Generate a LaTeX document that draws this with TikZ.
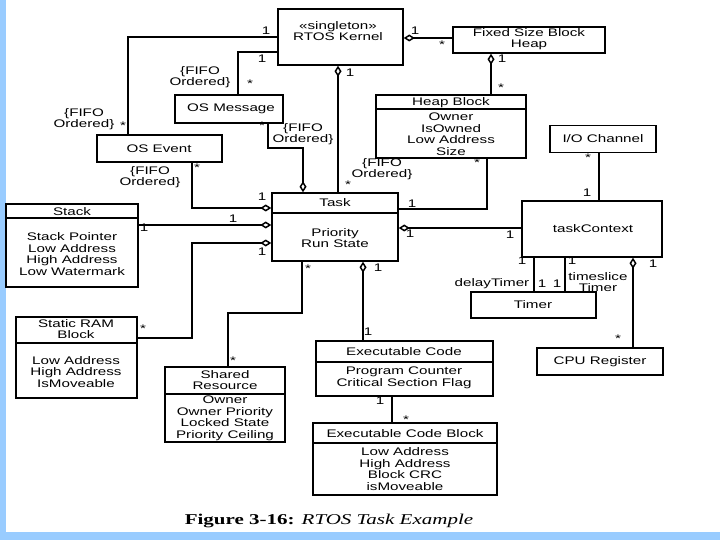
\documentclass[tikz,border=0pt]{standalone}
\usepackage{fontspec}
\newfontfamily\umlfont[FakeStretch=1.38]{Liberation Sans}
\newfontfamily\capfont[FakeStretch=1.4]{Liberation Serif}
\usepackage{tikz}
\usetikzlibrary{arrows.meta}
\definecolor{slideblue}{RGB}{153,204,255}

\begin{document}
\begin{tikzpicture}[x=1pt, y=-1pt,
        cls/.style={draw, line width=1.5pt, inner sep=0pt},
        txt/.style={font=\umlfont\fontsize{11}{11.5}\selectfont, align=center, inner sep=0pt},
        sep/.style={line width=1.2pt},
        assoc/.style={line width=1.5pt},
        aggstart/.style={{Diamond[open,length=11pt,width=7pt]}-},
        aggend/.style={-{Diamond[open,length=11pt,width=7pt]}}]
    \useasboundingbox (0,0) rectangle (720,540);
    \fill[slideblue] (0,0) rectangle (6,540);
    \fill[slideblue] (0,532) rectangle (720,540);

    % classes
    \node[cls, minimum width=125, minimum height=56] (kernel) at (340.5,37) {};
    \node[txt] (kernel-t) at (338,31) {«singleton»\\RTOS Kernel};
    \node[cls, minimum width=152, minimum height=26] (fixheap) at (529,40) {};
    \node[txt] (fixheap-t) at (529,39) {Fixed Size Block\\Heap};
    \node[cls, minimum width=108, minimum height=28] (osmsg) at (229,109) {};
    \node[txt] (osmsg-t) at (231,109) {OS Message};
    \node[cls, minimum width=125, minimum height=27] (osevent) at (159.5,148.5) {};
    \node[txt] (osevent-t) at (159,149) {OS Event};
    \node[cls, minimum width=150, minimum height=63] (heapblk) at (451,126.5) {};
    \node[txt] (heapblk-t) at (451,103) {Heap Block};
    \node[txt] (heapblk-a) at (451,134) {Owner\\IsOwned\\Low Address\\Size};
    \node[cls, minimum width=106, minimum height=27] (iochan) at (603,139) {};
    \node[txt] (iochan-t) at (603,139) {I/O Channel};
    \node[cls, minimum width=132, minimum height=83] (stack) at (72,245.5) {};
    \node[txt] (stack-t) at (72,212) {Stack};
    \node[txt] (stack-a) at (72,254) {Stack Pointer\\Low Address\\High Address\\Low Watermark};
    \node[cls, minimum width=126, minimum height=68] (task) at (335,227) {};
    \node[txt] (task-t) at (335,203) {Task};
    \node[txt] (task-a) at (335,238) {Priority\\Run State};
    \node[cls, minimum width=140, minimum height=56] (taskctx) at (592,229) {};
    \node[txt] (taskctx-t) at (593,229) {taskContext};
    \node[cls, minimum width=125, minimum height=26] (timer) at (533.5,305) {};
    \node[txt] (timer-t) at (533,305) {Timer};
    \node[cls, minimum width=121, minimum height=81] (sram) at (76.5,357.5) {};
    \node[txt] (sram-t) at (76,329) {Static RAM\\Block};
    \node[txt] (sram-a) at (76,372) {Low Address\\High Address\\IsMoveable};
    \node[cls, minimum width=120, minimum height=75] (shared) at (225,404.5) {};
    \node[txt] (shared-t) at (225,380) {Shared\\Resource};
    \node[txt] (shared-a) at (225,418.5) {Owner\\Owner Priority\\Locked State\\Priority Ceiling};
    \node[cls, minimum width=177, minimum height=55] (execcode) at (404.5,368.5) {};
    \node[txt] (execcode-t) at (404,352) {Executable Code};
    \node[txt] (execcode-a) at (404,378) {Program Counter\\Critical Section Flag};
    \node[cls, minimum width=126, minimum height=27] (cpureg) at (600,361.5) {};
    \node[txt] (cpureg-t) at (600,362) {CPU Register};
    \node[cls, minimum width=184, minimum height=72] (ecb) at (405,459) {};
    \node[txt] (ecb-t) at (405,434) {Executable Code Block};
    \node[txt] (ecb-a) at (405,469) {Low Address\\High Address\\Block CRC\\isMoveable};

    % compartment lines
    \foreach \n/\y in {heapblk/109, stack/218, task/213, sram/343, shared/394, execcode/362, ecb/443}
        \draw[sep] (\n.west |- 0,\y) -- (\n.east |- 0,\y);

    % associations
    \draw[assoc] (kernel.west |- 0,37) -| (osevent.north -| 128,0);
    \draw[assoc] (kernel.west |- 0,52) -| (osmsg.north -| 238,0);
    \draw[assoc, aggstart] (kernel.east |- 0,38) -- (fixheap.west |- 0,38);
    \draw[assoc, aggstart] (kernel.south -| 338,0) -- (task.north -| 338,0);
    \draw[assoc, aggend] (osmsg.south -| 268,0) |- (303,148) -- (task.north -| 303,0);
    \draw[assoc, aggend] (osevent.south -| 192,0) |- (task.west |- 0,208);
    \draw[assoc, aggend] (stack.east |- 0,225) -- (task.west |- 0,225);
    \draw[assoc, aggstart] (task.west |- 0,243) -| (192,338) -- (sram.east |- 0,338);
    \draw[assoc] (task.south -| 302,0) |- (228,313) -- (shared.north -| 228,0);
    \draw[assoc, aggstart] (task.south -| 363,0) -- (execcode.north -| 363,0);
    \draw[assoc] (task.east |- 0,209) -| (heapblk.south -| 487,0);
    \draw[assoc, aggstart] (task.east |- 0,228) -- (taskctx.west |- 0,228);
    \draw[assoc] (iochan.south -| 599,0) -- (taskctx.north -| 599,0);
    \draw[assoc] (taskctx.south -| 534,0) -- (timer.north -| 534,0);
    \draw[assoc] (taskctx.south -| 565,0) -- (timer.north -| 565,0);
    \draw[assoc, aggstart] (taskctx.south -| 633,0) -- (cpureg.north -| 633,0);
    \draw[assoc, aggstart] (fixheap.south -| 491,0) -- (heapblk.north -| 491,0);
    \draw[assoc] (execcode.south -| 392,0) -- (ecb.north -| 392,0);

    % multiplicities
    \foreach \x/\y/\t [count=\i] in {266/31/1, 123/126/*, 262/59/1, 250/84/*, 415/31/1, 442/45/*,
            350/73/1, 348/185/*, 262/126/*, 197/168/*, 262/197/1, 233/219/1, 144/228/1,
            262/252/1, 143/329/*, 308/269/*, 233/361/*, 378/268/1, 368/332/1, 412/204/1,
            477/163/*, 410/234/1, 510/235/1, 588/158/*, 587/193/1, 522/261/1, 542/284/1,
            572/261/1, 557/284/1, 653/264/1, 618/339/*, 502/59/1, 501/88/*, 380/401/1, 406/420/*}
        \node[txt] (m\i) at (\x,\y) {\t};

    % role names and constraints
    \node[txt] (fifo1) at (84,119) {\{FIFO\\Ordered\}};
    \node[txt] (fifo2) at (200,77) {\{FIFO\\Ordered\}};
    \node[txt] (fifo3) at (382,169) {\{FIFO\\Ordered\}};
    \node[txt] (fifo4) at (303,134) {\{FIFO\\Ordered\}};
    \node[txt] (fifo5) at (150,177) {\{FIFO\\Ordered\}};
    \node[txt] (delay) at (492,284) {delayTimer};
    \node[txt] (slice) at (598,282) {timeslice\\Timer};

    \node[font=\capfont\fontsize{15}{17}\selectfont, inner sep=0pt] (caption) at (329,521)
        {\textbf{Figure 3-16:} \textit{RTOS Task Example}};
\end{tikzpicture}
\end{document}
